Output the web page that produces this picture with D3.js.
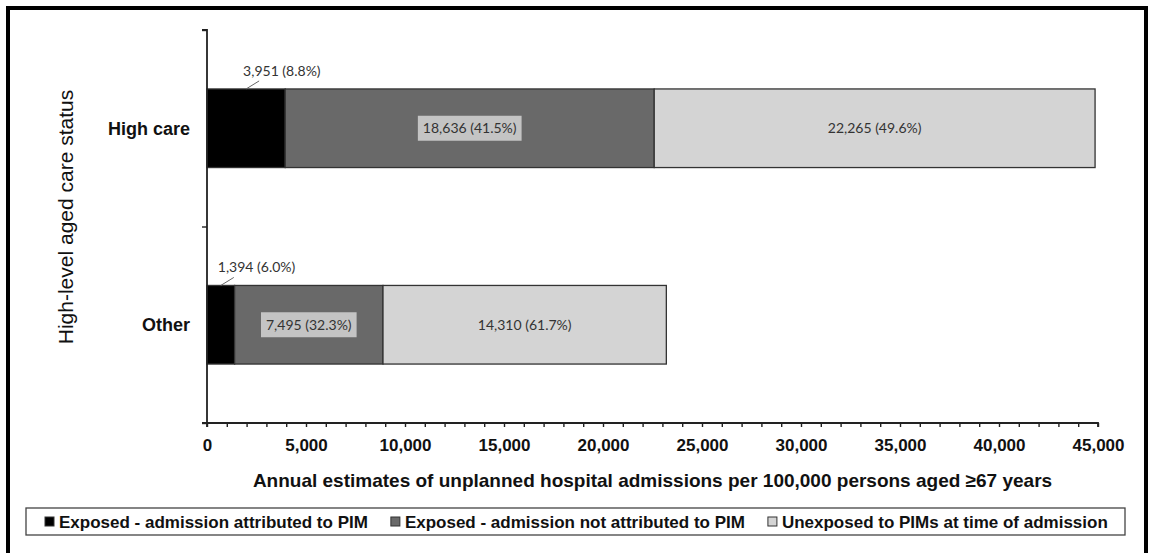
<!DOCTYPE html>
<html><head><meta charset="utf-8">
<script src="https://cdn.jsdelivr.net/npm/d3@7"></script>
<style>
html,body{margin:0;padding:0;background:#fff;}
svg{display:block;}
</style></head>
<body>
<svg id="chart" width="1150" height="553"></svg>
<script>
// ---- data ----
const categories = ["High care", "Other"];
const seriesNames = [
  "Exposed - admission attributed to PIM",
  "Exposed - admission not attributed to PIM",
  "Unexposed to PIMs at time of admission"
];
const attributed    = [3951, 1394];
const notAttributed = [18636, 7495];
const unexposed     = [22265, 14310];
const pctAttributed    = [8.8, 6.0];
const pctNotAttributed = [41.5, 32.3];
const pctUnexposed     = [49.6, 61.7];
const xTicks = [0, 5000, 10000, 15000, 20000, 25000, 30000, 35000, 40000, 45000];
const xMax = 45000;
const yTitle = "High-level aged care status";
const xTitle = "Annual estimates of unplanned hospital admissions per 100,000 persons aged \u226567 years";

// ---- layout ----
const svg = d3.select("#chart");
const colors = ["#000000", "#696969", "#d4d4d4"];
const plot = {left: 207, right: 1098, top: 30, bottom: 423};
const x = d3.scaleLinear().domain([0, xMax]).range([plot.left, plot.right]);
const yBand = d3.scaleBand().domain(categories).range([plot.top, plot.bottom]).padding(0);
const yEdges = d3.scaleLinear().domain([0, categories.length]).range([plot.top, plot.bottom]);

// frame
svg.append("rect").attr("x", 8).attr("y", 8).attr("width", 1138).attr("height", 620)
  .attr("fill", "none").attr("stroke", "#000").attr("stroke-width", 4);

const series = [attributed, notAttributed, unexposed];
const pcts = [pctAttributed, pctNotAttributed, pctUnexposed];
const rows = categories.map((c, i) => {
  let acc = 0;
  return series.map((s, k) => {
    const seg = {cat: c, k, x0: acc, x1: acc + s[i], v: s[i], p: pcts[k][i]};
    acc += s[i];
    return seg;
  });
});
const fmt = d3.format(",");
const barH = yBand.bandwidth() * 0.4;
const barY = c => yBand(c) + yBand.bandwidth() * 0.3;

// bars
const g = svg.append("g");
rows.forEach(segs => {
  g.selectAll(null).data(segs).enter().append("rect")
    .attr("x", d => x(d.x0)).attr("y", d => barY(d.cat))
    .attr("width", d => x(d.x1) - x(d.x0)).attr("height", barH)
    .attr("fill", d => colors[d.k]).attr("stroke", "#333").attr("stroke-width", 1.3);
});

// axes
const xAxis = d3.axisBottom(x).tickValues(d3.range(0, xMax + 1, 1000)).tickSize(4).tickPadding(12)
  .tickFormat(d => xTicks.includes(d) ? fmt(d) : "");
const xg = svg.append("g").attr("transform", `translate(0,${plot.bottom})`).call(xAxis);
xg.select(".domain").attr("stroke", "#222").attr("stroke-width", 1.8).attr("d", `M${plot.left},4V0H${plot.right}V4`);
xg.selectAll(".tick line").attr("stroke", "#222").attr("stroke-width", 1.4);
xg.selectAll(".tick text").attr("font-family", "Liberation Sans, Arial, sans-serif")
  .attr("font-weight", "bold").attr("font-size", 17).attr("fill", "#111");

const yAxis = d3.axisLeft(yEdges).tickValues(d3.range(categories.length + 1)).tickSize(5).tickFormat("");
const yg = svg.append("g").attr("transform", `translate(${plot.left},0)`).call(yAxis);
yg.select(".domain").attr("stroke", "#222").attr("stroke-width", 1.8).attr("d", `M-5,${plot.top}H0V${plot.bottom}H-5`);
yg.selectAll(".tick line").attr("stroke", "#222").attr("stroke-width", 1.4);

// category labels
svg.selectAll(".cat").data(categories).enter().append("text")
  .attr("x", 190).attr("y", d => yBand(d) + yBand.bandwidth() / 2)
  .attr("dy", "0.35em").attr("text-anchor", "end")
  .attr("font-family", "Liberation Sans, Arial, sans-serif").attr("font-weight", "bold")
  .attr("font-size", 18).attr("fill", "#111").text(d => d);

// titles
svg.append("text").attr("x", (plot.left + plot.right) / 2).attr("y", 487)
  .attr("text-anchor", "middle").attr("font-family", "Liberation Sans, Arial, sans-serif")
  .attr("font-weight", "bold").attr("font-size", 19).attr("fill", "#111").text(xTitle);
svg.append("text").attr("transform", `translate(73,217) rotate(-90)`)
  .attr("text-anchor", "middle").attr("font-family", "Liberation Sans, Arial, sans-serif")
  .attr("font-size", 21).attr("fill", "#111").text(yTitle);

// data labels
const lblFont = "Lato, Open Sans, sans-serif";
rows.forEach(segs => {
  segs.forEach(d => {
    const label = fmt(d.v) + " (" + d.p.toFixed(1) + "%)";
    const cx = (x(d.x0) + x(d.x1)) / 2;
    const top = barY(d.cat);
    const cy = top + barH / 2;
    if (d.k === 0) {
      svg.append("line").attr("x1", cx).attr("y1", top).attr("x2", cx + 13).attr("y2", top - 8)
        .attr("stroke", "#666").attr("stroke-width", 1);
      svg.append("text").attr("x", cx - 3).attr("y", top - 13)
        .attr("font-family", lblFont).attr("font-size", 14).attr("fill", "#333").text(label);
    } else {
      const t = svg.append("text").attr("x", cx).attr("y", cy).attr("dy", "0.35em")
        .attr("text-anchor", "middle").attr("font-family", lblFont).attr("font-size", 14)
        .attr("fill", "#333").text(label);
      if (d.k === 1) {
        const w = t.node().getComputedTextLength();
        svg.insert("rect", () => t.node()).attr("x", cx - w / 2 - 5).attr("y", cy - 12.5)
          .attr("width", w + 10).attr("height", 25).attr("fill", "#c4c4c4");
      }
    }
  });
});

// legend
const lg = svg.append("g");
lg.append("rect").attr("x", 26).attr("y", 508).attr("width", 1099).attr("height", 27)
  .attr("fill", "#fff").attr("stroke", "#444").attr("stroke-width", 1.3);
let lx = 45;
const gap = 23;
seriesNames.forEach((name, k) => {
  lg.append("rect").attr("x", lx).attr("y", 517).attr("width", 9).attr("height", 9)
    .attr("fill", colors[k]).attr("stroke", "#333").attr("stroke-width", 1);
  const t = lg.append("text").attr("x", lx + 14).attr("y", 522).attr("dy", "0.35em")
    .attr("font-family", "Liberation Sans, Arial, sans-serif").attr("font-weight", "bold")
    .attr("font-size", 17).attr("fill", "#111").text(name);
  lx += 14 + t.node().getComputedTextLength() + gap;
});
</script>
</body></html>
